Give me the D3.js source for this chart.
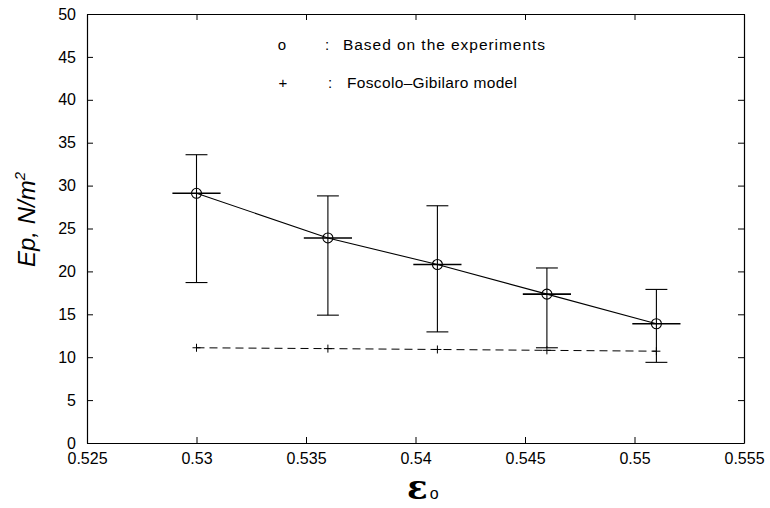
<!DOCTYPE html>
<html><head><meta charset="utf-8">
<script src="https://cdn.jsdelivr.net/npm/d3@7"></script>
<style>body{margin:0;background:#fff}svg{display:block}</style>
</head><body><svg id="c" width="770" height="508"></svg>
<script>
const eps = [0.530, 0.536, 0.541, 0.546, 0.551];
const epExp = [29.1, 23.9, 20.8, 17.35, 13.9];
const epUpper = [33.6, 28.8, 27.65, 20.4, 17.9];
const epLower = [18.7, 14.9, 12.95, 11.1, 9.4];
const epsErr = [0.0011, 0.0011, 0.0011, 0.0011, 0.0011];
const epModel = [11.1, 11.0, 10.9, 10.8, 10.7];
const xTicks = [0.525, 0.53, 0.535, 0.54, 0.545, 0.55, 0.555];
const yTicks = [0, 5, 10, 15, 20, 25, 30, 35, 40, 45, 50];

const svg = d3.select("#c");
const m = {l: 87, r: 26, t: 14, b: 65};
const W = 770, H = 508;
const x = d3.scaleLinear().domain([0.525, 0.555]).range([m.l, W - m.r]);
const y = d3.scaleLinear().domain([0, 50]).range([H - m.b, m.t]);
const font = "'Liberation Sans', Arial, Helvetica, sans-serif";

const g = svg.append("g");
const fmt = d => String(+d.toFixed(3));
const ax = (gen, tr) => {
  const a = g.append("g").attr("transform", tr).call(gen);
  a.select(".domain").attr("stroke", "#000").attr("stroke-width", 1.2);
  a.selectAll(".tick line").attr("stroke", "#000");
  a.selectAll("text").attr("font-family", font).attr("font-size", 16).attr("fill", "#000");
  return a;
};
ax(d3.axisBottom(x).tickValues(xTicks).tickFormat(fmt).tickSizeInner(-6).tickSizeOuter(0).tickPadding(10), `translate(0,${H - m.b})`);
ax(d3.axisLeft(y).tickValues(yTicks).tickSizeInner(-6).tickSizeOuter(0).tickPadding(11), `translate(${m.l},0)`);
ax(d3.axisTop(x).tickValues(xTicks).tickFormat("").tickSizeInner(-6).tickSizeOuter(0), `translate(0,${m.t})`);
ax(d3.axisRight(y).tickValues(yTicks).tickFormat("").tickSizeInner(-6).tickSizeOuter(0), `translate(${W - m.r},0)`);

// model dashed line
const line = d3.line().x((d, i) => x(eps[i])).y(d => y(d));
g.append("path").datum(epModel).attr("d", line).attr("fill", "none")
  .attr("stroke", "#000").attr("stroke-width", 1).attr("stroke-dasharray", "8,5");
g.selectAll(".mp").data(epModel).enter().append("path")
  .attr("d", (d, i) => `M${x(eps[i]) - 4},${y(d)}h8M${x(eps[i])},${y(d) - 4}v8`)
  .attr("stroke", "#000").attr("stroke-width", 1);

// experimental line
g.append("path").datum(epExp).attr("d", line).attr("fill", "none")
  .attr("stroke", "#000").attr("stroke-width", 1.1);
// error bars
const cap = 0.0005;
eps.forEach((e, i) => {
  const eb = g.append("g").attr("stroke", "#000").attr("stroke-width", 1.1);
  eb.append("line").attr("x1", x(e)).attr("x2", x(e)).attr("y1", y(epUpper[i])).attr("y2", y(epLower[i]));
  eb.append("line").attr("x1", x(e - cap)).attr("x2", x(e + cap)).attr("y1", y(epUpper[i])).attr("y2", y(epUpper[i]));
  eb.append("line").attr("x1", x(e - cap)).attr("x2", x(e + cap)).attr("y1", y(epLower[i])).attr("y2", y(epLower[i]));
  eb.append("line").attr("x1", x(e - epsErr[i])).attr("x2", x(e + epsErr[i])).attr("y1", y(epExp[i])).attr("y2", y(epExp[i])).attr("stroke-width", 1.6);
  eb.append("circle").attr("cx", x(e)).attr("cy", y(epExp[i])).attr("r", 5).attr("fill", "none");
});

// legend
const lg = g.append("g").attr("font-family", font).attr("fill", "#000");
lg.append("text").attr("x", 282).attr("y", 50).attr("font-size", 15).attr("text-anchor", "middle").text("o");
lg.append("text").attr("x", 327).attr("y", 50).attr("font-size", 15).attr("text-anchor", "middle").text(":");
lg.append("text").attr("x", 343).attr("y", 50).attr("font-size", 15.5).attr("textLength", 202).attr("lengthAdjust", "spacing").text("Based on the experiments");
lg.append("text").attr("x", 283).attr("y", 88).attr("font-size", 15).attr("text-anchor", "middle").text("+");
lg.append("text").attr("x", 330).attr("y", 88).attr("font-size", 15).attr("text-anchor", "middle").text(":");
lg.append("text").attr("x", 347).attr("y", 88).attr("font-size", 15.5).attr("textLength", 170).attr("lengthAdjust", "spacing").text("Foscolo\u2013Gibilaro model");

// y label
const yl = g.append("text").attr("transform", "translate(35,267) rotate(-90)")
  .attr("font-family", font).attr("font-size", 24).attr("font-style", "italic").attr("fill", "#000");
yl.append("tspan").text("Ep, N/m");
yl.append("tspan").attr("font-size", 15).attr("dy", -10).text("2");

// x label
const xl = g.append("text").attr("x", 407).attr("y", 499).attr("fill", "#000");
xl.append("tspan").attr("font-family", "'DejaVu Serif', 'Liberation Serif', serif").attr("font-size", 34).attr("font-weight", "bold").text("\u03b5");
xl.append("tspan").attr("font-family", font).attr("font-size", 16).attr("dx", 2).text("o");
</script></body></html>
